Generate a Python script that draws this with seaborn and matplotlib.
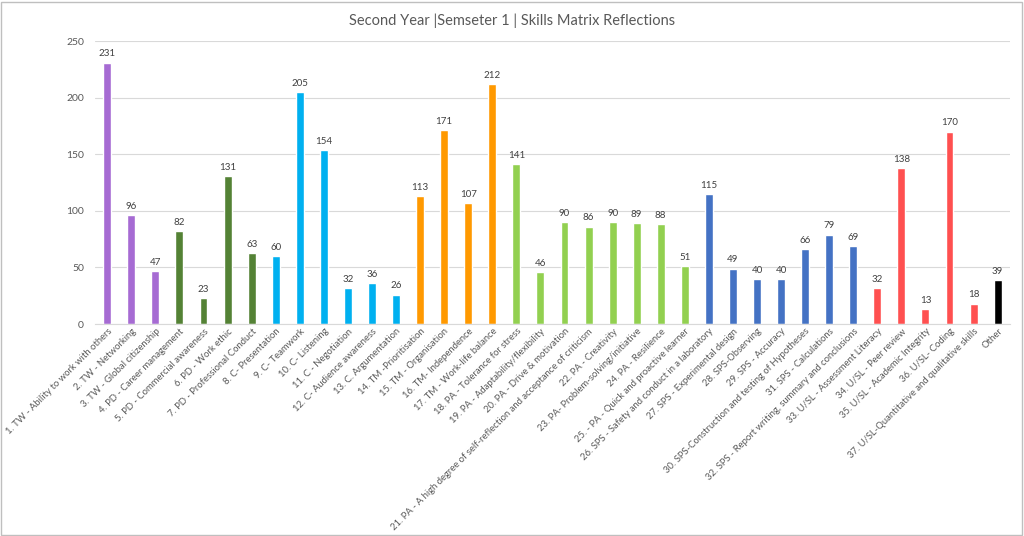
import pandas as pd
import matplotlib.pyplot as plt
import matplotlib.patches as mpatches
import seaborn as sns

skills = [
	"1. TW - Ability to work with others", "2. TW - Networking", "3. TW - Global citizenship",
	"4. PD - Career management", "5. PD - Commercial awareness", "6. PD - Work ethic",
	"7. PD - Professional Conduct", "8. C- Presentation", "9. C- Teamwork", "10. C- Listening",
	"11. C - Negotiation", "12. C- Audience awareness", "13. C. Argumentation",
	"14. TM -Prioritisation", "15. TM - Organisation", "16. TM- Independence",
	"17. TM - Work-life balance", "18. PA - Tolerance for stress", "19. PA - Adaptability/flexibility",
	"20. PA - Drive & motivation",
	"21. PA - A high degree of self-reflection and acceptance of criticism",
	"22. PA - Creativity", "23. PA- Problem-solving/initiative", "24. PA - Resilience",
	"25. - PA - Quick and proactive learner", "26. SPS - Safety and conduct in a laboratory",
	"27. SPS - Experimental design", "28. SPS-Observing", "29. SPS - Accuracy",
	"30. SPS-Construction and testing of Hypotheses", "31. SPS - Calculations",
	"32. SPS - Report writing, summary and conclusions", "33. U/SL - Assessment Literacy",
	"34. U/SL - Peer review", "35. U/SL - Academic Integrity", "36. U/SL- Coding",
	"37. U/SL-Quantitative and qualitative skills", "Other",
]
counts = [231, 96, 47, 82, 23, 131, 63, 60, 205, 154, 32, 36, 26, 113, 171, 107, 212, 141, 46,
	90, 86, 90, 89, 88, 51, 115, 49, 40, 40, 66, 79, 69, 32, 138, 13, 170, 18, 39]
groups = ["TW"] * 3 + ["PD"] * 4 + ["C"] * 6 + ["TM"] * 4 + ["PA"] * 8 + ["SPS"] * 7 + ["U/SL"] * 5 + ["Other"]
group_colors = {
	"TW": "#A66BD3", "PD": "#548235", "C": "#00B0F0", "TM": "#FF9900",
	"PA": "#92D050", "SPS": "#4472C4", "U/SL": "#FF5050", "Other": "#000000",
}

df = pd.DataFrame({"skill": skills, "count": counts, "group": groups})

sns.set_style("white")
plt.rcParams['font.family'] = ['Lato', 'DejaVu Sans']
grey = "#595959"

fig = plt.figure(figsize=(10.24, 5.36), dpi=100)
ax = fig.add_axes([0.093, 0.3955, 0.893, 0.528])

sns.barplot(data=df, x="skill", y="count", hue="group", palette=group_colors,
	dodge=False, width=0.33, saturation=1, legend=False, ax=ax)

for c in ax.containers:
	ax.bar_label(c, fontsize=7, color="#404040", padding=3)

ax.set_ylim(0, 250)
ax.set_yticks(range(0, 251, 50))
ax.set_xlim(-0.5, len(skills) - 0.5)
ax.yaxis.grid(True, color="#D9D9D9", linewidth=0.8)
ax.set_axisbelow(True)
for s in ["top", "right", "left"]:
	ax.spines[s].set_visible(False)
ax.spines["bottom"].set_color("#D9D9D9")
ax.set_xlabel("")
ax.set_ylabel("")
ax.tick_params(axis="y", labelsize=7.5, colors=grey, length=0, pad=8)
ax.tick_params(axis="x", length=0, pad=2)
ax.set_xticks(range(len(skills)))
ax.set_xticklabels(skills, rotation=45, ha="right", rotation_mode="anchor",
	fontsize=6.8, color=grey)

fig.suptitle("Second Year |Semseter 1 | Skills Matrix Reflections", fontsize=10.5, color=grey, y=0.975)

fig.patches.append(mpatches.Rectangle((0.001, 0.002), 0.997, 0.995, transform=fig.transFigure,
	fill=False, edgecolor="#BFBFBF", linewidth=1))

fig.savefig("out.png", dpi=100)
